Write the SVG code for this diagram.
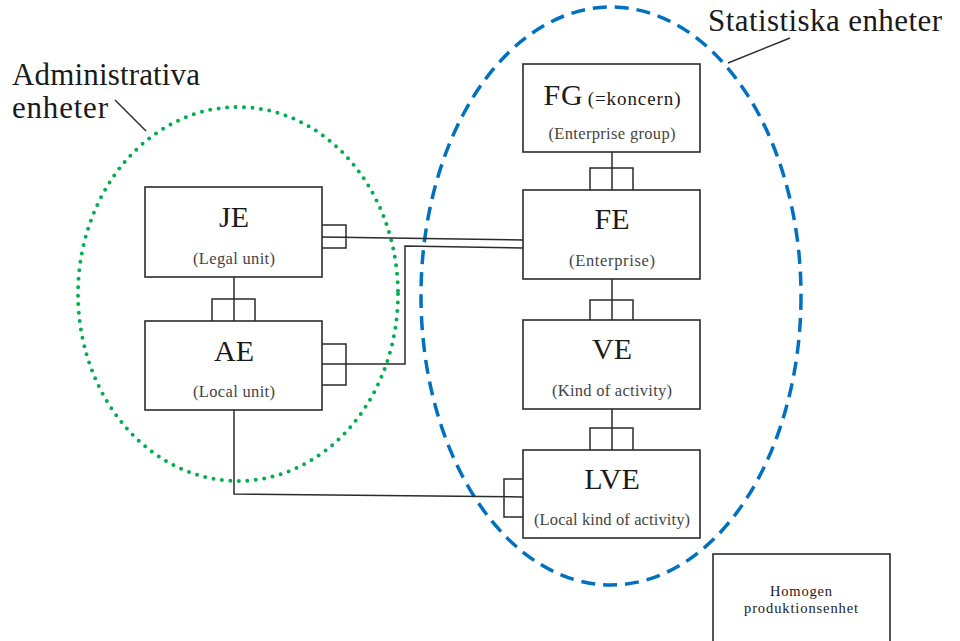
<svg xmlns="http://www.w3.org/2000/svg" width="960" height="641" viewBox="0 0 960 641">
<style>
.box{fill:#fff;stroke:#2b2b2b;stroke-width:1.6}
.ln{fill:none;stroke:#2b2b2b;stroke-width:1.5}
.t{font-family:"Liberation Serif","DejaVu Serif",serif;fill:#1a1a1a;text-anchor:middle}
.big{font-size:30px}
.sm{font-size:16.5px;fill:#444}
.lab{font-family:"Liberation Serif","DejaVu Serif",serif;font-size:31px;fill:#1a1a1a}
</style>
<rect width="960" height="641" fill="#fff"/>
<g id="groups">
<ellipse cx="238" cy="294" rx="160" ry="187" fill="none" stroke="#00b050" stroke-width="4" stroke-linecap="round" stroke-dasharray="0 8.5"/>
<ellipse cx="611" cy="296" rx="190" ry="289" fill="none" stroke="#0070c0" stroke-width="3.5" stroke-dasharray="14 8"/>
<line class="ln" x1="115" y1="100" x2="146" y2="131"/>
<line class="ln" x1="790" y1="38" x2="728" y2="63"/>
<text class="lab" x="12" y="85" textLength="188">Administrativa</text>
<text class="lab" x="12" y="118" textLength="96">enheter</text>
<text class="lab" x="708" y="31" textLength="234">Statistiska enheter</text>
</g>
<g id="connectors">
<path class="ln" d="M234,277 V321 M212,321 V299 H255 V321"/>
<path class="ln" d="M322,237 L523,240 M322,225 H346 V248 H322"/>
<path class="ln" d="M322,364 H405 V246 L523,248 M322,344 H346 V385 H322"/>
<path class="ln" d="M612,152 V190 M590,190 V168 H633 V190"/>
<path class="ln" d="M612,279 V320 M590,320 V300 H633 V320"/>
<path class="ln" d="M612,409 V450 M590,450 V428 H633 V450"/>
<path class="ln" d="M234,410 V494 L523,497 M523,479 H504 V517 H523"/>
</g>
<g id="JE"><rect class="box" x="145" y="187" width="177" height="90"/><text class="t big" x="234" y="227">JE</text><text class="t sm" x="234" y="264" textLength="82">(Legal unit)</text></g>
<g id="AE"><rect class="box" x="145" y="321" width="177" height="89"/><text class="t big" x="234" y="361">AE</text><text class="t sm" x="234" y="397" textLength="82">(Local unit)</text></g>
<g id="FG"><rect class="box" x="523" y="64" width="177" height="88"/><text class="t" x="612" y="105" textLength="137"><tspan font-size="30">FG</tspan><tspan font-size="19" dx="4">(=koncern)</tspan></text><text class="t sm" x="612" y="139" textLength="127">(Enterprise group)</text></g>
<g id="FE"><rect class="box" x="523" y="190" width="177" height="89"/><text class="t big" x="612" y="229">FE</text><text class="t sm" x="612" y="266" textLength="86">(Enterprise)</text></g>
<g id="VE"><rect class="box" x="523" y="320" width="177" height="89"/><text class="t big" x="612" y="359">VE</text><text class="t sm" x="612" y="396" textLength="120">(Kind of activity)</text></g>
<g id="LVE"><rect class="box" x="523" y="450" width="177" height="88"/><text class="t big" x="612" y="489">LVE</text><text class="t sm" x="612" y="525" textLength="156">(Local kind of activity)</text></g>
<g id="HPE"><rect class="box" x="713" y="554" width="177" height="100"/><text class="t" x="801" y="596" font-size="14.5" fill="#333" textLength="62">Homogen</text><text class="t" x="801" y="613" font-size="14.5" fill="#333" textLength="114">produktionsenhet</text></g>
</svg>
